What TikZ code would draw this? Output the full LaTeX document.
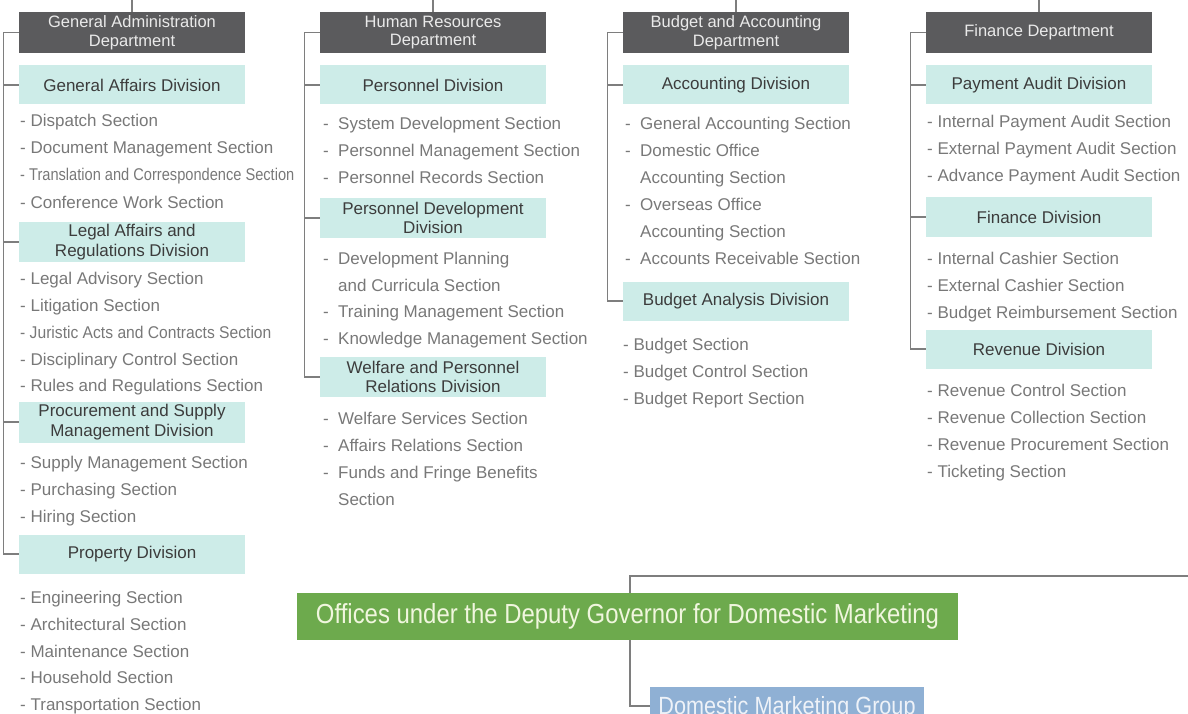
\documentclass[tikz,border=0pt]{standalone}
\usepackage{fontspec}
\setmainfont{Liberation Sans}
\usetikzlibrary{backgrounds}

\definecolor{deptgray}{HTML}{5B5B5D}
\definecolor{depttext}{HTML}{EAEAEA}
\definecolor{divteal}{HTML}{CDECE8}
\definecolor{divtext}{HTML}{3C3C3C}
\definecolor{secgray}{HTML}{787878}
\definecolor{linegray}{HTML}{7E7E7E}
\definecolor{mktgreen}{HTML}{6DAA4D}
\definecolor{mkttext}{HTML}{F0F6DE}
\definecolor{grpblue}{HTML}{8FB0D4}
\definecolor{grptext}{HTML}{EEF2F8}

% wide dash in front of a section name
\newcommand{\wdash}{\makebox[15pt][l]{-}}

\tikzset{
  dept/.style={fill=deptgray, text=depttext, minimum width=226pt, minimum height=41pt,
    inner sep=0pt, align=center, font=\fontsize{16.5}{18.5}\selectfont},
  divbox/.style={fill=divteal, text=divtext, minimum width=226pt, minimum height=39pt,
    inner sep=0pt, align=center, font=\fontsize{17}{19.5}\selectfont},
  sect/.style={anchor=west, inner sep=0pt, text=secgray, text height=12pt, text depth=0pt,
    font=\fontsize{17}{20}\selectfont},
  tree/.style={draw=linegray, line width=1.2pt},
}

\begin{document}
\begin{tikzpicture}[x=1pt, y=-1pt]
    \useasboundingbox (0,0) rectangle (1188,714);
    \clip (0,0) rectangle (1188,714);

    \def\ca{132};
    \def\cb{433};
    \def\cc{736};
    \def\cd{1039};

    \coordinate (top) at (0,0);

    % General Administration
    \node[dept] (gad) at (\ca, 32.5) {General Administration\\Department};
    \node[divbox] (gaf) at (\ca, 85) {General Affairs Division};
    \node[sect] (gaf1) at (20, 121) {- Dispatch Section};
    \node[sect] (gaf2) at (20, 148) {- Document Management Section};
    \node[sect] (gaf3) at (20, 175) {\scalebox{0.86}[1]{- Translation and Correspondence Section}};
    \node[sect] (gaf4) at (20, 202) {- Conference Work Section};
    \node[divbox, minimum height=40pt] (lar) at (\ca, 242) {Legal Affairs and\\Regulations Division};
    \node[sect] (lar1) at (20, 278) {- Legal Advisory Section};
    \node[sect] (lar2) at (20, 305) {- Litigation Section};
    \node[sect] (lar3) at (20, 332) {\scalebox{0.92}[1]{- Juristic Acts and Contracts Section}};
    \node[sect] (lar4) at (20, 359) {- Disciplinary Control Section};
    \node[sect] (lar5) at (20, 385) {- Rules and Regulations Section};
    \node[divbox, minimum height=41pt] (psm) at (\ca, 422) {Procurement and Supply\\Management Division};
    \node[sect] (psm1) at (20, 462) {- Supply Management Section};
    \node[sect] (psm2) at (20, 489) {- Purchasing Section};
    \node[sect] (psm3) at (20, 516) {- Hiring Section};
    \node[divbox] (prp) at (\ca, 554) {Property Division};
    \node[sect] (prp1) at (20, 597) {- Engineering Section};
    \node[sect] (prp2) at (20, 624) {- Architectural Section};
    \node[sect] (prp3) at (20, 651) {- Maintenance Section};
    \node[sect] (prp4) at (20, 677) {- Household Section};
    \node[sect] (prp5) at (20, 704) {- Transportation Section};

    % Human Resources
    \node[dept] (hrd) at (\cb, 32.5) {Human Resources\\Department};
    \node[divbox] (psd) at (\cb, 85) {Personnel Division};
    \node[sect] (psd1) at (323, 124) {\wdash System Development Section};
    \node[sect] (psd2) at (323, 151) {\wdash Personnel Management Section};
    \node[sect] (psd3) at (323, 178) {\wdash Personnel Records Section};
    \node[divbox, minimum height=40pt] (pdd) at (\cb, 218) {Personnel Development\\Division};
    \node[sect] (pdd1) at (323, 258) {\wdash Development Planning};
    \node[sect] (pdd1b) at (338, 285) {and Curricula Section};
    \node[sect] (pdd2) at (323, 311) {\wdash Training Management Section};
    \node[sect] (pdd3) at (323, 338) {\wdash Knowledge Management Section};
    \node[divbox, minimum height=40pt] (wpr) at (\cb, 377) {Welfare and Personnel\\Relations Division};
    \node[sect] (wpr1) at (323, 418) {\wdash Welfare Services Section};
    \node[sect] (wpr2) at (323, 445) {\wdash Affairs Relations Section};
    \node[sect] (wpr3) at (323, 472) {\wdash Funds and Fringe Benefits};
    \node[sect] (wpr3b) at (338, 499) {Section};

    % Budget and Accounting
    \node[dept] (bad) at (\cc, 32.5) {Budget and Accounting\\Department};
    \node[divbox] (acd) at (\cc, 85) {Accounting Division};
    \node[sect] (acd1) at (625, 124) {\wdash General Accounting Section};
    \node[sect] (acd2) at (625, 151) {\wdash Domestic Office};
    \node[sect] (acd2b) at (640, 178) {Accounting Section};
    \node[sect] (acd3) at (625, 205) {\wdash Overseas Office};
    \node[sect] (acd3b) at (640, 231) {Accounting Section};
    \node[sect] (acd4) at (625, 258) {\wdash Accounts Receivable Section};
    \node[divbox] (bnd) at (\cc, 301) {Budget Analysis Division};
    \node[sect] (bnd1) at (623, 344) {- Budget Section};
    \node[sect] (bnd2) at (623, 371) {- Budget Control Section};
    \node[sect] (bnd3) at (623, 398) {- Budget Report Section};

    % Finance
    \node[dept] (fnd) at (\cd, 32.5) {Finance Department};
    \node[divbox] (pad) at (\cd, 85) {Payment Audit Division};
    \node[sect] (pad1) at (927, 122) {- Internal Payment Audit Section};
    \node[sect] (pad2) at (927, 149) {- External Payment Audit Section};
    \node[sect] (pad3) at (927, 176) {- Advance Payment Audit Section};
    \node[divbox] (fid) at (\cd, 217) {Finance Division};
    \node[sect] (fid1) at (927, 258) {- Internal Cashier Section};
    \node[sect] (fid2) at (927, 285) {- External Cashier Section};
    \node[sect] (fid3) at (927, 312) {- Budget Reimbursement Section};
    \node[divbox] (rvd) at (\cd, 349) {Revenue Division};
    \node[sect] (rvd1) at (927, 390) {- Revenue Control Section};
    \node[sect] (rvd2) at (927, 417) {- Revenue Collection Section};
    \node[sect] (rvd3) at (927, 444) {- Revenue Procurement Section};
    \node[sect] (rvd4) at (927, 471) {- Ticketing Section};

    % stubs to the top and the trees
    \draw[tree] (gad.north) -- (gad.north |- top);
    \draw[tree] (hrd.north) -- (hrd.north |- top);
    \draw[tree] (bad.north) -- (bad.north |- top);
    \draw[tree] (fnd.north) -- (fnd.north |- top);

    \draw[tree] (gad.west) -- ++(-15,0) coordinate (ga0) |- (prp.west);
    \draw[tree] (gaf.west) -- (gaf.west -| ga0);
    \draw[tree] (lar.west) -- (lar.west -| ga0);
    \draw[tree] (psm.west) -- (psm.west -| ga0);

    \draw[tree] (hrd.west) -- ++(-15,0) coordinate (hr0) |- (wpr.west);
    \draw[tree] (psd.west) -- (psd.west -| hr0);
    \draw[tree] (pdd.west) -- (pdd.west -| hr0);

    \draw[tree] (bad.west) -- ++(-15,0) coordinate (ba0) |- (bnd.west);
    \draw[tree] (acd.west) -- (acd.west -| ba0);

    \draw[tree] (fnd.west) -- ++(-15,0) coordinate (fn0) |- (rvd.west);
    \draw[tree] (pad.west) -- (pad.west -| fn0);
    \draw[tree] (fid.west) -- (fid.west -| fn0);

    % domestic marketing
    \node[fill=mktgreen, text=mkttext, minimum width=661pt, minimum height=47pt, inner sep=0pt,
      font=\fontsize{26}{30}\selectfont] (ogv) at (627.5, 616.5)
      {\scalebox{0.92}[1.06]{Offices under the Deputy Governor for Domestic Marketing}};
    \node[fill=grpblue, text=grptext, minimum width=274pt, minimum height=38pt, inner sep=0pt,
      text height=17pt, text depth=0pt, font=\fontsize{23.5}{27}\selectfont] (dmg) at (787, 706)
      {\scalebox{0.92}[1.06]{Domestic Marketing Group}};

    \coordinate (mk) at (630, 576);
    \coordinate (rt) at (1188, 576);
    \begin{scope}[on background layer]
      \draw[tree] (rt) -- (mk) |- (dmg.west);
    \end{scope}

\end{tikzpicture}
\end{document}
